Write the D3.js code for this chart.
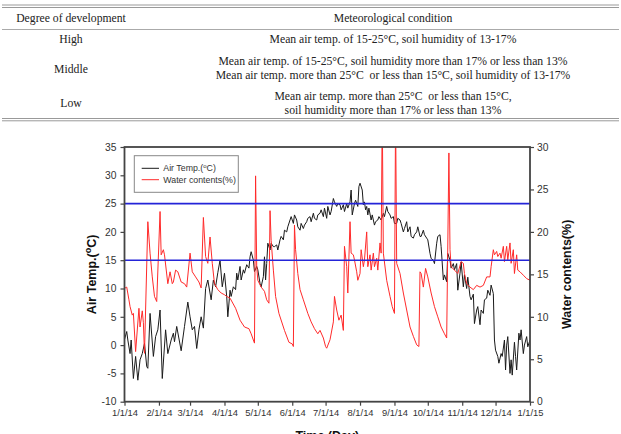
<!DOCTYPE html>
<html>
<head>
<meta charset="utf-8">
<script src="https://cdn.jsdelivr.net/npm/d3@7"></script>
<style>
  body { margin: 0; background: #fff; }
  svg { display: block; }
</style>
</head>
<body>
<svg id="fig" width="621" height="434"></svg>
<script>
// ---- table data ----
const tableHeader = ['Degree of development', 'Meteorological condition']
const tableLevels = ['High', 'Middle', 'Low']
const tableConditions = [
  ['Mean air temp. of 15-25\u00B0C, soil humidity of 13-17%'],
  ['Mean air temp. of 15-25\u00B0C, soil humidity more than 17% or less than 13%',
   'Mean air temp. more than 25\u00B0C  or less than 15\u00B0C, soil humidity of 13-17%'],
  ['Mean air temp. more than 25\u00B0C  or less than 15\u00B0C,',
   'soil humidity more than 17% or less than 13%']
]

// ---- chart data (day of year 2014, value) ----
const tempDay = [0,2,3,5,6,8,10,12,14,16,18,20,21,23,26,28,30,32,34,37,39,42,44,45,47,51,54,57,59,61,63,65,67,69,71,73,75,78,80,82,84,86,88,90,92,93,95,96,98,100,101,102,104,105,107,108,110,112,113,114,116,117,119,120,122,123,125,126,127,128,129,131,132,134,135,137,138,140,141,143,144,146,147,149,150,152,153,155,156,158,159,161,162,164,165,167,168,170,171,173,174,176,177,179,180,182,183,185,186,188,189,191,192,194,195,197,198,200,201,203,204,205,207,208,210,211,212,214,215,216,217,218,219,220,222,223,225,226,228,229,231,233,234,236,237,239,240,242,243,245,246,248,249,251,252,254,255,257,258,260,261,263,264,266,267,269,270,272,273,275,276,278,279,281,282,284,285,287,288,290,291,293,294,296,297,299,300,302,303,305,306,308,309,311,312,314,315,317,318,320,321,323,324,326,327,329,330,332,333,334,336,337,339,340,342,343,344,345,347,348,349,351,352,353,355,356,357,359,360,362,363,365]
const tempValue = [1.0,2.4,0.9,-1.5,0.9,-5.9,-2.0,-6.2,-2.6,-1.5,0.3,-3.8,-4.1,5.6,-2.0,1.5,2.7,6.2,-5.9,2.7,-1.5,0.9,2.1,0.6,3.3,-1.0,3.3,7.6,5.0,2.7,3.3,-0.6,2.7,5.0,3.0,10.0,11.5,8.0,11.5,10.3,12.8,15.0,10.3,12.7,8.6,5.0,9.7,8.6,10.3,9.8,12.7,11.5,13.9,11.5,13.3,12.7,14.2,13.6,15.6,16.5,15.0,13.0,13.9,13.3,10.9,10.3,12.1,15.6,11.5,14.4,18.0,16.8,18.0,17.4,17.4,17.7,16.8,18.6,19.2,18.6,20.3,20.0,20.9,22.1,22.7,21.5,23.0,22.1,20.9,20.3,21.5,20.6,21.2,21.8,22.4,22.7,21.8,23.3,22.4,22.1,23.0,23.3,23.9,22.7,24.2,22.4,24.5,23.0,23.6,25.9,25.3,24.5,25.0,24.8,23.9,24.8,23.6,25.0,24.2,25.3,27.4,23.0,25.0,25.6,24.5,28.0,28.6,27.4,24.8,25.3,23.9,24.5,23.0,24.2,22.1,23.0,21.2,21.8,22.1,22.7,22.1,23.3,22.7,24.5,23.6,23.0,22.4,22.7,21.5,21.5,22.4,22.1,21.5,20.0,20.6,21.8,20.0,20.9,19.2,18.9,19.5,20.0,20.9,19.2,19.2,20.3,19.5,18.9,18.6,16.2,15.3,15.0,14.4,18.0,19.2,19.5,17.4,11.5,12.4,11.2,16.2,15.0,13.6,14.4,13.3,14.4,9.7,12.7,14.7,10.3,12.4,10.0,12.0,8.6,8.0,9.0,3.8,6.2,6.8,3.6,6.2,5.6,8.0,8.3,9.7,8.8,10.6,9.1,0.9,-0.9,-2.0,-3.2,-1.5,-2.0,0.9,-4.4,0.0,1.5,-5.0,-2.6,-5.3,0.5,-2.0,-4.4,2.1,0.9,2.7,-1.5,0.0,1.5,-0.3,0.9]

const waterDay = [0,2,4,5,7,8,10,13,14,16,17,18,21,23,25,27,29,32,33,35,36,39,41,43,44,46,48,51,54,56,59,61,64,67,69,71,73,75,77,79,81,84,87,90,92,95,100,104,108,112,114,117,118,119,120,123,126,128,130,131,132,134,136,139,144,148,151,152,153,154,156,158,161,165,168,171,174,176,179,181,182,185,188,189,191,193,195,197,198,200,201,203,204,206,207,209,210,212,213,215,216,218,219,221,222,224,225,227,228,230,231,232,233,236,239,241,243,244,245,248,251,254,257,260,263,265,266,267,269,271,273,276,279,282,285,288,290,292,293,294,297,300,303,305,306,308,311,314,317,320,323,326,329,330,332,333,335,336,338,339,341,342,344,345,347,348,350,351,353,354,356,359,362,365]
const waterValue = [13.35,13.5,12.0,11.2,10.2,10.4,5.9,11.0,8.8,10.7,9.3,5.7,21.2,17.5,14.7,12.4,11.8,22.4,17.3,17.9,17.3,13.9,15.3,13.9,14.1,15.5,15.3,14.1,13.9,13.5,17.5,15.3,14.7,14.1,13.4,21.7,17.1,16.3,19.4,16.3,13.9,13.2,12.8,12.6,12.4,12.2,11.0,9.6,8.8,8.6,8.0,6.9,26.6,15.9,14.3,13.5,13.0,12.0,11.6,22.5,19.0,15.5,12.4,10.4,8.4,7.0,6.8,6.5,20.8,17.9,15.1,13.2,12.0,10.4,9.4,8.6,8.0,8.4,7.5,6.5,6.3,7.3,9.4,12.4,10.8,9.6,10.2,8.4,18.3,15.9,12.8,21.2,17.5,17.3,16.7,15.3,14.3,15.1,17.9,15.9,16.7,20.0,15.9,17.3,15.5,17.5,15.9,16.9,15.5,18.7,17.5,34,17.5,14.3,12.4,11.2,10.4,34,16.3,15.1,12.8,10.8,8.8,7.7,6.7,6.5,15.3,15.1,13.5,15.7,14.7,12.8,11.2,10.0,8.8,8.0,7.5,29.3,17.9,15.9,15.5,15.1,16.5,16.3,15.1,13.9,13.5,13.2,13.7,13.5,13.7,14.7,14.7,15.9,17.9,17.3,17.7,17.1,17.5,16.9,18.3,16.5,18.3,16.7,18.7,16.3,17.9,15.1,17.3,15.5,15.3,14.9,14.5,14.3]

const tempTicks = [-10,-5,0,5,10,15,20,25,30,35]
const waterTicks = [0,5,10,15,20,25,30]
const tempLimits = [25, 15]   // blue reference lines

const svg = d3.select('#fig')
const serif = "'Liberation Serif', 'Times New Roman', serif"
const sans = "'Liberation Sans', Arial, sans-serif"

// ---- table ----
const colLeft = 71, colRight = 393
svg.append('line').attr('x1', 2).attr('x2', 619).attr('y1', 5).attr('y2', 5).attr('stroke', '#999').attr('stroke-width', 1)
svg.append('line').attr('x1', 2).attr('x2', 619).attr('y1', 7.5).attr('y2', 7.5).attr('stroke', '#999').attr('stroke-width', 1)
svg.append('line').attr('x1', 2).attr('x2', 619).attr('y1', 29.5).attr('y2', 29.5).attr('stroke', '#aaa').attr('stroke-width', 1)
svg.append('line').attr('x1', 2).attr('x2', 619).attr('y1', 118.5).attr('y2', 118.5).attr('stroke', '#999').attr('stroke-width', 1)
svg.append('line').attr('x1', 2).attr('x2', 619).attr('y1', 120.8).attr('y2', 120.8).attr('stroke', '#999').attr('stroke-width', 1)

const tbl = svg.append('g').attr('font-family', serif).attr('font-size', 11.7).attr('fill', '#222')
tbl.append('text').attr('x', colLeft).attr('y', 21.5).attr('text-anchor', 'middle').text(tableHeader[0])
tbl.append('text').attr('x', colRight).attr('y', 21.5).attr('text-anchor', 'middle').text(tableHeader[1])
const levelY = [43.2, 72.5, 107.2]
const condY = [[43.2], [65, 78.8], [100, 113.6]]
tableLevels.forEach((lv, i) => {
  tbl.append('text').attr('x', colLeft).attr('y', levelY[i]).attr('text-anchor', 'middle').text(lv)
  tableConditions[i].forEach((c, j) => {
    tbl.append('text').attr('x', colRight).attr('y', condY[i][j]).attr('text-anchor', 'middle')
      .attr('xml:space', 'preserve').style('white-space', 'pre').text(c)
  })
})

// ---- chart ----
const plot = {left: 124.5, right: 530, top: 147, bottom: 401.7}
const t0 = new Date(Date.UTC(2014, 0, 1))
const t1 = new Date(Date.UTC(2015, 0, 1))
const x = d3.scaleUtc().domain([t0, t1]).range([plot.left, plot.right])
const yT = d3.scaleLinear().domain([-10, 35]).range([plot.bottom, plot.top])
const yW = d3.scaleLinear().domain([0, 30]).range([plot.bottom, plot.top])

const tempData = tempDay.map((d, i) => ({date: d3.utcDay.offset(t0, d), v: tempValue[i]}))
const waterData = waterDay.map((d, i) => ({date: d3.utcDay.offset(t0, d), v: waterValue[i]}))

svg.append('clipPath').attr('id', 'clip').append('rect')
  .attr('x', plot.left).attr('y', plot.top)
  .attr('width', plot.right - plot.left).attr('height', plot.bottom - plot.top)

const lines = svg.append('g').attr('clip-path', 'url(#clip)')
lines.append('path').datum(tempData)
  .attr('fill', 'none').attr('stroke', '#1a1a1a').attr('stroke-width', 1)
  .attr('d', d3.line().x(d => x(d.date)).y(d => yT(d.v)))
lines.append('path').datum(waterData)
  .attr('fill', 'none').attr('stroke', '#ff2a2a').attr('stroke-width', 1)
  .attr('d', d3.line().x(d => x(d.date)).y(d => yW(d.v)))
lines.selectAll('line.limit').data(tempLimits).enter().append('line')
  .attr('class', 'limit')
  .attr('x1', plot.left).attr('x2', plot.right)
  .attr('y1', d => yT(d)).attr('y2', d => yT(d))
  .attr('stroke', '#2424d8').attr('stroke-width', 1.6)

// axes (plain hyphen for negatives, like the original)
const axisColor = '#444'
const plain = d => String(d)
const gL = svg.append('g').attr('transform', `translate(${plot.left},0)`)
  .call(d3.axisLeft(yT).tickValues(tempTicks).tickFormat(plain).tickSize(4).tickPadding(4))
const gR = svg.append('g').attr('transform', `translate(${plot.right},0)`)
  .call(d3.axisRight(yW).tickValues(waterTicks).tickFormat(plain).tickSize(4).tickPadding(3))
const gB = svg.append('g').attr('transform', `translate(0,${plot.bottom})`)
  .call(d3.axisBottom(x).ticks(d3.utcMonth.every(1)).tickFormat(d3.utcFormat('%-m/%-d/%y')).tickSize(4).tickPadding(4))
;[gL, gR, gB].forEach(g => {
  g.select('.domain').remove()
  g.selectAll('.tick line').attr('stroke', axisColor).attr('stroke-width', 1.2)
  g.selectAll('.tick text').attr('fill', '#333').attr('font-family', sans).attr('font-size', 10.3)
})
gB.selectAll('.tick text').attr('font-size', 9.4)

// frame
svg.append('rect')
  .attr('x', plot.left).attr('y', plot.top)
  .attr('width', plot.right - plot.left).attr('height', plot.bottom - plot.top)
  .attr('fill', 'none').attr('stroke', axisColor).attr('stroke-width', 1.8)

// axis titles
const tl = svg.append('text')
  .attr('transform', `translate(95.5,${(plot.top + plot.bottom) / 2}) rotate(-90)`)
  .attr('text-anchor', 'middle').attr('font-family', sans).attr('font-weight', 'bold')
  .attr('font-size', 12.5).attr('fill', '#111')
tl.append('tspan').text('Air Temp.(')
tl.append('tspan').attr('dy', -5).attr('font-size', 9).text('o')
tl.append('tspan').attr('dy', 5).text('C)')

svg.append('text')
  .attr('transform', `translate(570.5,${(plot.top + plot.bottom) / 2}) rotate(-90)`)
  .attr('text-anchor', 'middle').attr('font-family', sans).attr('font-weight', 'bold')
  .attr('font-size', 12.5).attr('fill', '#111').text('Water contents(%)')

// cut off by the lower edge, as in the original
svg.append('text')
  .attr('x', (plot.left + plot.right) / 2).attr('y', 440)
  .attr('text-anchor', 'middle').attr('font-family', sans).attr('font-weight', 'bold')
  .attr('font-size', 12.5).attr('fill', '#111').text('Time (Day)')

// legend
const legend = svg.append('g').attr('transform', 'translate(134.3,155.7)')
legend.append('rect').attr('width', 104).attr('height', 36.6)
  .attr('fill', '#fff').attr('stroke', '#888').attr('stroke-width', 1)
const legendItems = [{label: 'Air Temp.(', sup: 'o', tail: 'C)', color: '#1a1a1a'},
                     {label: 'Water contents(%)', color: '#ff2a2a'}]
legendItems.forEach((it, i) => {
  const yy = 12.6 + i * 11.4
  legend.append('line').attr('x1', 7.4).attr('x2', 24.7).attr('y1', yy).attr('y2', yy)
    .attr('stroke', it.color).attr('stroke-width', 1)
  const t = legend.append('text').attr('x', 29).attr('y', yy + 3.2)
    .attr('font-family', sans).attr('font-size', 8.8).attr('fill', '#333')
  t.append('tspan').text(it.label)
  if (it.sup) {
    t.append('tspan').attr('dy', -3).attr('font-size', 6).text(it.sup)
    t.append('tspan').attr('dy', 3).text(it.tail)
  }
})
</script>
</body>
</html>
